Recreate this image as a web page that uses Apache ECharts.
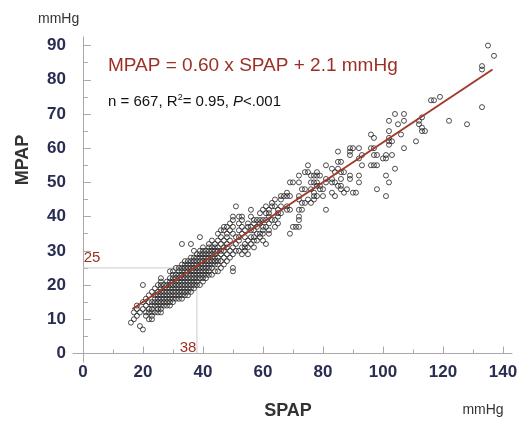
<!DOCTYPE html>
<html><head><meta charset="utf-8">
<script src="https://cdn.jsdelivr.net/npm/echarts@6/dist/echarts.min.js"></script>
<style>html,body{margin:0;padding:0;background:#fff}#c{width:531px;height:427px}</style>
</head><body><div id="c"></div>
<script>
// SPAP value -> list of MPAP values observed at that SPAP (mmHg)
const spapColumns = [
  [16,[9]],
  [17,[10,12]],
  [18,[11,13,14]],
  [19,[8,12]],
  [20,[7,13,15,20]],
  [21,[11,12,14,16]],
  [22,[10,12,13,15,17]],
  [23,[10,11,12,13,14,15,18]],
  [24,[12,14,15,16,17,19]],
  [25,[12,13,14,15,16,17,18,20]],
  [26,[12,13,14,15,16,17,18,19,20,21,22]],
  [27,[14,15,16,17,18,19,20]],
  [28,[14,15,16,17,18,19,20,21]],
  [29,[14,15,16,17,18,19,20,21,22,24]],
  [30,[15,16,17,18,19,20,21,22,23,24]],
  [31,[16,17,18,19,20,21,22,23,25]],
  [32,[16,17,18,19,20,21,22,23,24,25]],
  [33,[16,17,18,19,20,21,22,23,24,25,26,32]],
  [34,[17,18,19,20,21,22,23,24,25,26,27]],
  [35,[17,18,19,20,21,22,23,24,25,26,27]],
  [36,[18,19,20,21,22,23,24,25,26,27,28,32]],
  [37,[19,20,21,22,23,24,25,26,27,28,30]],
  [38,[20,21,22,23,24,25,26,27,28,29]],
  [39,[20,22,23,24,25,26,27,28,29,30,34]],
  [40,[21,22,23,24,25,26,27,28,29,30,31]],
  [41,[22,23,24,25,26,27,28,29,30]],
  [42,[23,24,25,26,27,28,29,30,31,32]],
  [43,[23,25,26,27,28,29,30,31,33]],
  [44,[24,26,27,28,29,30,31,32]],
  [45,[24,26,27,28,30,31,33,35]],
  [46,[25,27,29,30,32,34,36]],
  [47,[26,28,30,31,33,36,37]],
  [48,[27,29,31,32,34,35,37]],
  [49,[28,30,33,36,38]],
  [50,[24,25,29,31,35,37,39,40]],
  [51,[30,32,34,43]],
  [52,[30,33,34,36,38,40]],
  [53,[29,31,35,37,39,40]],
  [54,[30,31,32,34,36]],
  [55,[29,31,33,37,38]],
  [56,[32,34,36,37,40,42]],
  [57,[31,33,34,36,38,39]],
  [58,[33,35,37,39]],
  [59,[34,35,38,39,41]],
  [60,[33,35,36,37,39,42]],
  [61,[32,37,39,41,43]],
  [62,[35,36,38,40,41,42]],
  [63,[39,43,44]],
  [64,[37,39,43,45]],
  [65,[38,40,41,42]],
  [66,[41,43,45,46]],
  [67,[46]],
  [68,[42,43,46,47]],
  [69,[35,42,46,50]],
  [70,[37,50]],
  [71,[37]],
  [72,[37,39,40,42,45,46,50,52]],
  [73,[42,44,48]],
  [74,[44,48,53]],
  [75,[45,53,55]],
  [76,[44,48,50,52]],
  [77,[45,46,47,50,52]],
  [78,[46,49,50,52,53]],
  [79,[48,49,52]],
  [80,[46,48]],
  [81,[42,50,51,55]],
  [83,[47,50,51,54]],
  [84,[46,50,53]],
  [85,[49,54,56,59]],
  [86,[48,49,51,53,56]],
  [87,[47,53]],
  [88,[48]],
  [89,[51,52,58,59,60]],
  [90,[47,60]],
  [91,[47]],
  [92,[50,52,57,60]],
  [93,[55,58]],
  [96,[55,60,64]],
  [97,[55,58,60,63]],
  [98,[48,55,58]],
  [100,[57]],
  [101,[46,52,57,58]],
  [102,[50,61,62,63,65,68]],
  [103,[58,62]],
  [104,[54,70]],
  [105,[67]],
  [106,[64]],
  [107,[60,68,70]],
  [111,[62]],
  [112,[67,68]],
  [113,[65,66,69]],
  [114,[65]],
  [116,[74]],
  [117,[74]],
  [119,[75]],
  [122,[68]],
  [128,[67]],
  [133,[72,83,84]],
  [135,[90]],
  [137,[87]]
];
const regressionLine = [[16.5,13.0],[136.5,83.0]];
const guideLine = [[0,25],[38,25],[38,0]];
const xMajorTicks = [0,20,40,60,80,100,120,140];
const xMinorTicks = [10,30,50,70,90,110,130];
const yMajorTicks = [0,10,20,30,40,50,60,70,80,90];
const yMinorTicks = [5,15,25,35,45,55,65,75,85];

const points = [];
spapColumns.forEach(([s, list]) => list.forEach(m => points.push([s, m])));

const AXIS = '#a9a9a9';
const LABEL = '#2a2d52';
const RED = '#9c2f25';
const xRange = {min: -3.3, max: 143};
const yRange = {min: -2.5, max: 92.5};

const chart = echarts.init(document.getElementById('c'), null, {renderer: 'canvas'});
chart.setOption({
  animation: false,
  grid: {left: 73, top: 37, width: 439, height: 325},
  xAxis: [
    {type: 'value', min: xRange.min, max: xRange.max, position: 'bottom',
     splitLine: {show: false},
     axisLine: {lineStyle: {color: AXIS, width: 1}},
     axisTick: {inside: true, length: 7, lineStyle: {color: AXIS}, customValues: xMajorTicks},
     axisLabel: {customValues: xMajorTicks, margin: 2, color: LABEL, fontSize: 17, fontWeight: 'bold', fontFamily: 'Liberation Sans'}},
    {type: 'value', min: xRange.min, max: xRange.max, position: 'bottom',
     splitLine: {show: false}, axisLine: {show: false},
     axisTick: {inside: true, length: 4, lineStyle: {color: AXIS}, customValues: xMinorTicks},
     axisLabel: {show: false}}
  ],
  yAxis: [
    {type: 'value', min: yRange.min, max: yRange.max, position: 'left',
     splitLine: {show: false},
     axisLine: {show: true, lineStyle: {color: AXIS, width: 1}},
     axisTick: {show: true, inside: true, length: 8, lineStyle: {color: AXIS}, customValues: yMajorTicks},
     axisLabel: {customValues: yMajorTicks, margin: 7, color: LABEL, fontSize: 17, fontWeight: 'bold', fontFamily: 'Liberation Sans'}},
    {type: 'value', min: yRange.min, max: yRange.max, position: 'left',
     splitLine: {show: false}, axisLine: {show: false},
     axisTick: {show: true, inside: true, length: 5, lineStyle: {color: AXIS}, customValues: yMinorTicks},
     axisLabel: {show: false}}
  ],
  series: [
    {type: 'line', data: guideLine, symbol: 'none', silent: true, z: 1,
     lineStyle: {color: '#cccccc', width: 1}},
    {type: 'scatter', data: points, symbol: 'circle', symbolSize: 5, z: 2,
     itemStyle: {color: 'rgba(0,0,0,0)', borderColor: '#222', borderWidth: 1}},
    {type: 'line', data: regressionLine, symbol: 'none', z: 3,
     lineStyle: {color: '#a3392b', width: 2}}
  ],
  graphic: [
    {type: 'text', x: 38, y: 19, style: {text: 'mmHg', font: '14px "Liberation Sans"', fill: '#333', verticalAlign: 'middle'}},
    {type: 'text', x: 23, y: 160, rotation: Math.PI / 2,
     style: {text: 'MPAP', font: 'bold 18px "Liberation Sans"', fill: '#333', align: 'center', verticalAlign: 'middle'}},
    {type: 'text', x: 288, y: 411, style: {text: 'SPAP', font: 'bold 18px "Liberation Sans"', fill: '#333', align: 'center', verticalAlign: 'middle'}},
    {type: 'text', x: 483, y: 410, style: {text: 'mmHg', font: '14px "Liberation Sans"', fill: '#333', align: 'center', verticalAlign: 'middle'}},
    {type: 'text', x: 108, y: 66, style: {text: 'MPAP = 0.60 x SPAP + 2.1 mmHg', font: '19px "Liberation Sans"', fill: RED, verticalAlign: 'middle'}},
    {type: 'text', x: 108, y: 102, style: {
      rich: {
        n: {font: '15px "Liberation Sans"', fill: '#111'},
        s: {font: '9px "Liberation Sans"', fill: '#111', verticalAlign: 'top', padding: [0, 0, 9, 0]},
        i: {font: 'italic 15px "Liberation Sans"', fill: '#111'}
      },
      text: '{n|n = 667, R}{s|2}{n|= 0.95, }{i|P}{n|<.001}', verticalAlign: 'middle'}},
    {type: 'text', x: 92, y: 258, style: {text: '25', font: '15px "Liberation Sans"', fill: RED, align: 'center', verticalAlign: 'middle'}},
    {type: 'text', x: 188, y: 348, style: {text: '38', font: '15px "Liberation Sans"', fill: RED, align: 'center', verticalAlign: 'middle'}}
  ]
});
</script></body></html>
